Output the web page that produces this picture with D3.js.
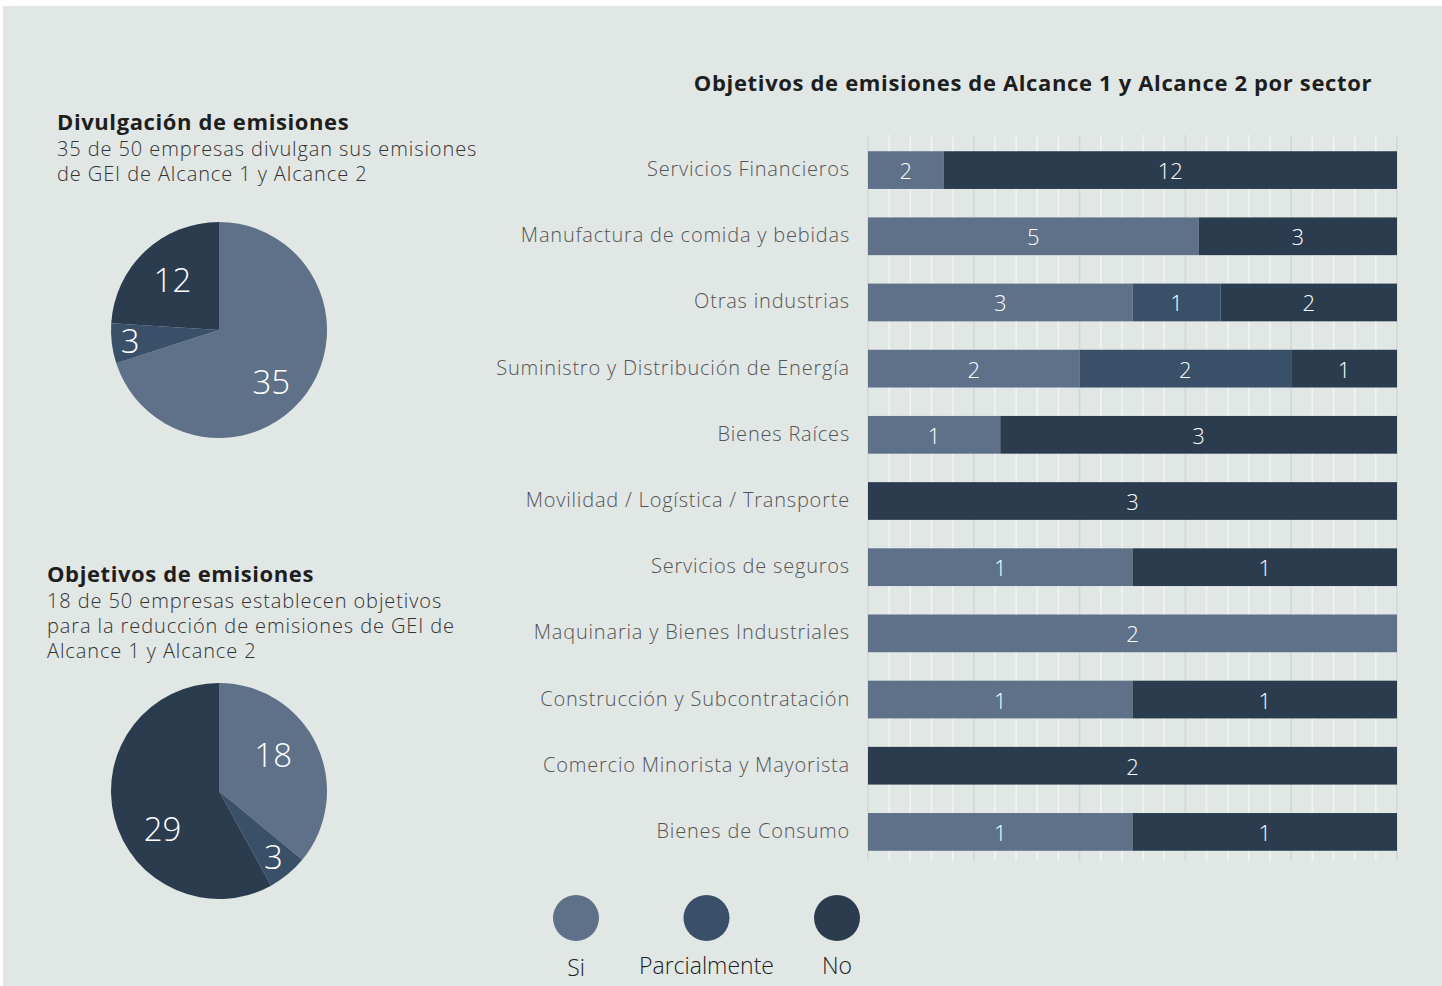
<!DOCTYPE html>
<html>
<head>
<meta charset="utf-8">
<script src="https://cdn.jsdelivr.net/npm/d3@7"></script>
<style>
  body { margin: 0; background: #fff; }
  svg { display: block; font-family: "Open Sans", "Lato", sans-serif; }
</style>
</head>
<body>
<div id="chart"></div>
<script>
// data
let sectors = [
  "Servicios Financieros",
  "Manufactura de comida y bebidas",
  "Otras industrias",
  "Suministro y Distribución de Energía",
  "Bienes Raíces",
  "Movilidad / Logística / Transporte",
  "Servicios de seguros",
  "Maquinaria y Bienes Industriales",
  "Construcción y Subcontratación",
  "Comercio Minorista y Mayorista",
  "Bienes de Consumo"
];
let siValues = [2, 5, 3, 2, 1, 0, 1, 2, 1, 0, 1];
let parcialValues = [0, 0, 1, 2, 0, 0, 0, 0, 0, 0, 0];
let noValues = [12, 3, 2, 1, 3, 3, 1, 0, 1, 2, 1];

let keys = ["Si", "Parcialmente", "No"];
let divulgacion = [35, 3, 12];
let objetivos = [18, 3, 29];

let colors = { "Si": "#5e7189", "Parcialmente": "#3a4f68", "No": "#2b3c4f" };

let svgWidth = 1442;
let svgHeight = 986;

let svg = d3.select("#chart")
  .append("svg")
  .attr("width", svgWidth)
  .attr("height", svgHeight);

// background panel
svg.append("rect")
  .attr("x", 3).attr("y", 6)
  .attr("width", 1439).attr("height", 980)
  .attr("fill", "#e1e7e5");

// ---- stacked bar chart (100%) ----
let margin = { top: 138, left: 868, right: 45, bottom: 122 };
let width = svgWidth - margin.left - margin.right;
let height = svgHeight - margin.top - margin.bottom;

let chartGroup = svg.append("g")
  .attr("transform", `translate(${margin.left}, ${margin.top})`);

let rows = sectors.map((s, i) => ({
  sector: s,
  "Si": siValues[i],
  "Parcialmente": parcialValues[i],
  "No": noValues[i]
}));

let stacked = d3.stack().keys(keys).offset(d3.stackOffsetExpand)(rows);

let xScale = d3.scaleLinear().domain([0, 1]).range([0, width]);
let yScale = d3.scaleBand().domain(sectors).range([0, height]).paddingInner(0.43).paddingOuter(0.2);

// grid lines
let minorTicks = d3.range(0, 1.0001, 0.04);
chartGroup.selectAll(".grid")
  .data(minorTicks)
  .enter()
  .append("line")
  .attr("x1", d => xScale(d))
  .attr("x2", d => xScale(d))
  .attr("y1", -3)
  .attr("y2", height - 3)
  .attr("stroke", (d, i) => i % 5 == 0 ? "#d2d6d5" : "#f2f5f4")
  .attr("stroke-width", 1.5);

let layers = chartGroup.selectAll(".layer")
  .data(stacked)
  .enter()
  .append("g")
  .attr("fill", d => colors[d.key]);

layers.selectAll("rect")
  .data(d => d)
  .enter()
  .append("rect")
  .attr("x", d => xScale(d[0]))
  .attr("y", d => yScale(d.data.sector))
  .attr("width", d => xScale(d[1]) - xScale(d[0]))
  .attr("height", yScale.bandwidth());

stacked.forEach(layer => {
  chartGroup.selectAll(null)
    .data(layer.filter(d => d.data[layer.key] > 0))
    .enter()
    .append("text")
    .attr("x", d => (xScale(d[0]) + xScale(d[1])) / 2)
    .attr("y", d => yScale(d.data.sector) + yScale.bandwidth() / 2 + 9)
    .attr("text-anchor", "middle")
    .attr("fill", "#fff")
    .attr("font-size", "22px")
    .attr("font-weight", 300)
    .text(d => d.data[layer.key]);
});

// category labels
chartGroup.selectAll(".catText")
  .data(sectors)
  .enter()
  .append("text")
  .attr("x", -18)
  .attr("y", d => yScale(d) + yScale.bandwidth() / 2 + 6)
  .attr("text-anchor", "end")
  .attr("fill", "#555")
  .attr("font-size", "20px")
  .attr("font-weight", 300)
  .attr("letter-spacing", "0.8px")
  .text(d => d);

svg.append("text")
  .attr("x", 1033)
  .attr("y", 91)
  .attr("text-anchor", "middle")
  .attr("font-size", "22px")
  .attr("font-weight", "bold")
  .attr("letter-spacing", "0.65px")
  .attr("fill", "#1e1e1e")
  .text("Objetivos de emisiones de Alcance 1 y Alcance 2 por sector");

// ---- legend ----
let legendX = d3.scalePoint().domain(keys).range([576, 837]);
let legend = svg.selectAll(".legend")
  .data(keys)
  .enter()
  .append("g")
  .attr("transform", d => `translate(${legendX(d)}, 918)`);
legend.append("circle")
  .attr("r", 23)
  .attr("fill", d => colors[d]);
legend.append("text")
  .attr("y", (d, i) => i == 0 ? 58 : 56)
  .attr("text-anchor", "middle")
  .attr("font-size", "23px")
  .attr("font-weight", 300)
  .attr("fill", "#222")
  .text(d => d);

// ---- pies ----
function drawPie(values, cx, cy, title, lines, tx, ty, labelR, labelShift) {
  let g = svg.append("g").attr("transform", `translate(${cx}, ${cy})`);
  let r = 108;
  let pie = d3.pie().sort(null).value(d => d.value);
  let arcs = pie(values.map((v, i) => ({ key: keys[i], value: v })));
  let arc = d3.arc().innerRadius(0).outerRadius(r);
  g.selectAll("path")
    .data(arcs)
    .enter()
    .append("path")
    .attr("d", arc)
    .attr("fill", d => colors[d.data.key]);
  g.selectAll(".pieText")
    .data(arcs)
    .enter()
    .append("text")
    .attr("transform", (d, i) => {
      let mid = (d.startAngle + d.endAngle) / 2 + labelShift[i];
      let lr = r * labelR[i];
      return `translate(${Math.sin(mid) * lr}, ${-Math.cos(mid) * lr + 12})`;
    })
    .attr("text-anchor", "middle")
    .attr("fill", "#fff")
    .attr("font-size", "33px")
    .attr("font-weight", 300)
    .text(d => d.data.value);

  svg.append("text")
    .attr("x", tx).attr("y", ty)
    .attr("font-size", "22px")
    .attr("font-weight", "bold")
    .attr("letter-spacing", "0.6px")
    .attr("fill", "#1e1e1e")
    .text(title);
  lines.forEach((l, i) => {
    svg.append("text")
      .attr("x", tx).attr("y", ty + 26 + i * 25)
      .attr("font-size", "20px")
      .attr("font-weight", 300)
      .attr("letter-spacing", "0.9px")
      .attr("fill", "#333")
      .text(l);
  });
}

drawPie(divulgacion, 219, 330, "Divulgación de emisiones",
  ["35 de 50 empresas divulgan sus emisiones", "de GEI de Alcance 1 y Alcance 2"],
  57, 130, [0.68, 0.83, 0.63], [0.15, 0, 0]);

drawPie(objetivos, 219, 791, "Objetivos de emisiones",
  ["18 de 50 empresas establecen objetivos", "para la reducción de emisiones de GEI de", "Alcance 1 y Alcance 2"],
  47, 582, [0.6, 0.79, 0.63], [-0.14, 0, -0.34]);
</script>
</body>
</html>
